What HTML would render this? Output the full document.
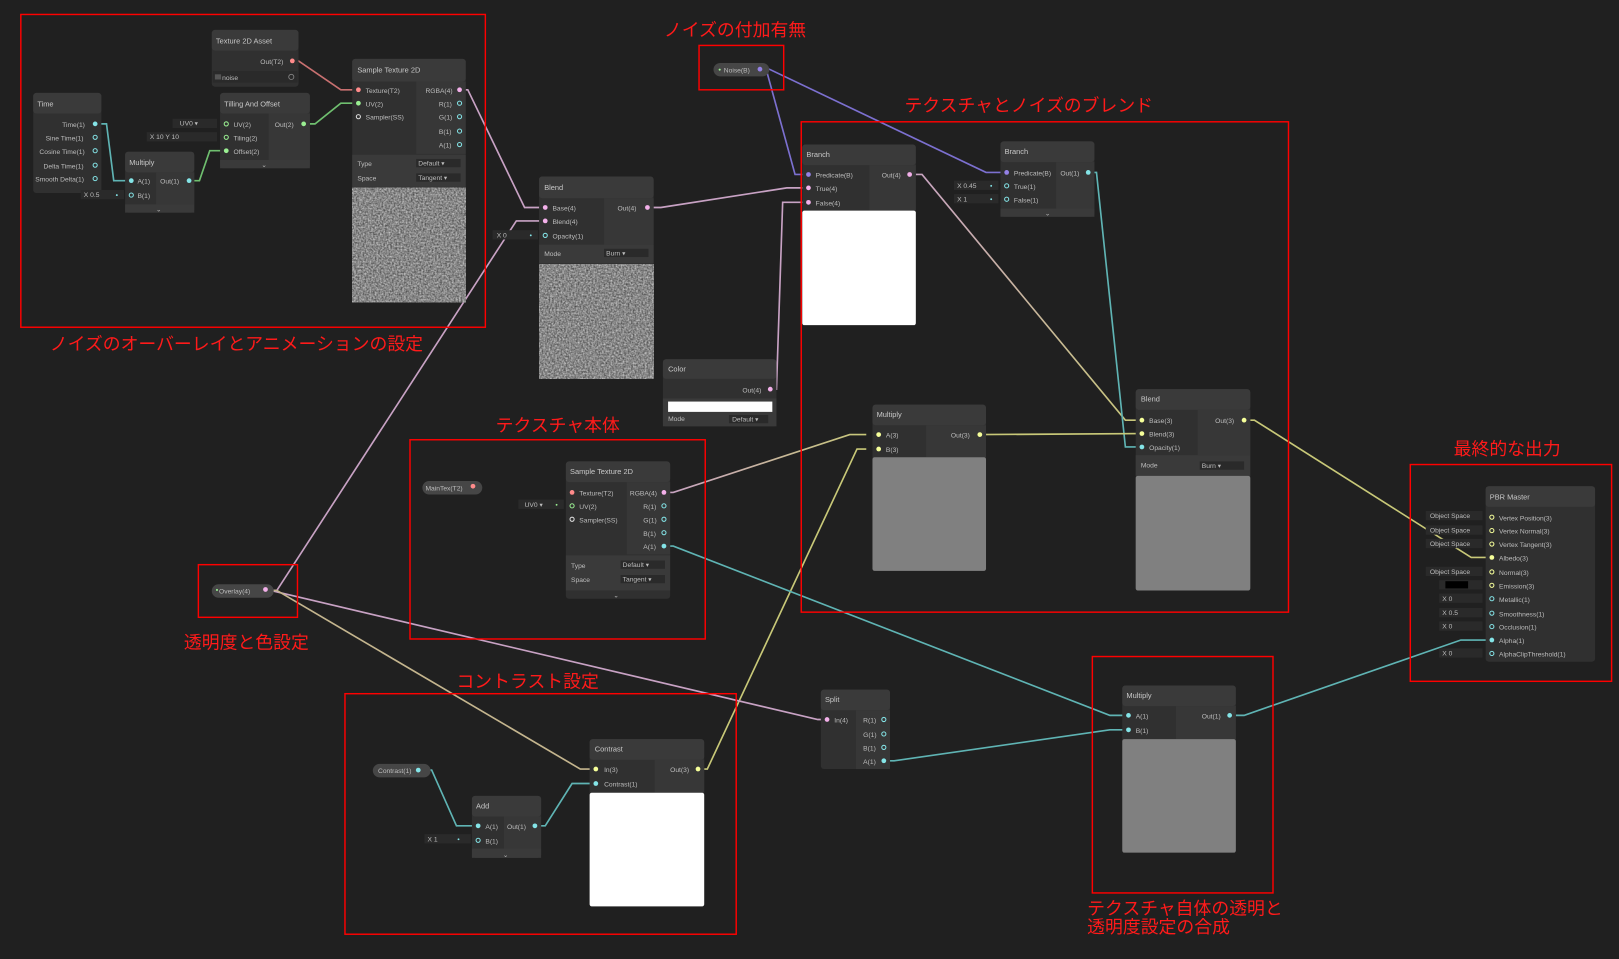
<!DOCTYPE html>
<html><head><meta charset="utf-8"><style>
html,body{margin:0;padding:0;background:#202020;overflow:hidden}
svg{display:block}
.t{font-family:"Liberation Sans",sans-serif;font-size:6.5px;fill:#bdbdbd}
.h{font-family:"Liberation Sans",sans-serif;font-size:7.2px;fill:#c8c8c8}
.r{font-family:"Liberation Sans","Noto Sans CJK JP",sans-serif;font-size:17.3px;fill:#ff1a1a}
.hd{fill:#3a3a3a}.bd{fill:#303030}.oc{fill:#373737}.bar{fill:#3a3a3a}
.box{fill:none;stroke:#ff0000;stroke-width:1.4}
.e{fill:none;stroke-width:1.6}
.pk{stroke:#c8a2c4}.tl{stroke:#5fb4b4}.gr{stroke:#6fbf6f}.rd{stroke:#c87070}.pu{stroke:#7c70d0}.yl{stroke:#c8c878}
.fld{fill:#2a2a2a}
</style></head><body>
<svg width="1619" height="959" viewBox="0 0 1568 929" xmlns="http://www.w3.org/2000/svg">
<defs>
<filter id="nz" x="0" y="0" width="100%" height="100%" color-interpolation-filters="sRGB"><feTurbulence type="fractalNoise" baseFrequency="0.6" numOctaves="2" seed="3"/><feColorMatrix type="matrix" values="0.7 0 0 0 0.18 0.7 0 0 0 0.18 0.7 0 0 0 0.18 0 0 0 0 1"/></filter>
<linearGradient id="g1" x1="0" y1="0" x2="1" y2="0"><stop offset="0" stop-color="#c8a2c4"/><stop offset="1" stop-color="#c8c878"/></linearGradient>
<linearGradient id="g2" x1="0" y1="0" x2="1" y2="0"><stop offset="0" stop-color="#c8a2c4"/><stop offset="1" stop-color="#c8c878"/></linearGradient>
</defs>
<rect width="1568" height="929" fill="#202020"/>

<!-- edges -->
<path class="e rd" d="M283 59 H289 L330 87 H347"/>
<path class="e gr" d="M294 120 H305 L330 100 H347"/>
<path class="e tl" d="M92 120 H103 L110 175 H127"/>
<path class="e gr" d="M183 175 H193 L203 146 H219"/>
<path class="e pk" d="M445 87 H453 L508 201 H528"/>
<path class="e pk" d="M262 572 H268 L500 214 H528"/>
<path class="e pk" d="M627 201 H640 L762 182 H783"/>
<path class="e pk" d="M746 377 H752 L758 196 H783"/>
<path class="e pu" d="M736 67 H742 L770 169 H783"/>
<path class="e pu" d="M736 67 H745 L955 167 H975"/>
<path class="e" stroke="url(#g1)" d="M881 169 H893 L1090 407 H1106"/>
<path class="e tl" d="M1054 167 H1062 L1090 433 H1106"/>
<path class="e yl" d="M949 421 L1106 420"/>
<path class="e" stroke="url(#g2)" d="M643 477 H652 L823 421 H839"/>
<path class="e yl" d="M676 745 H685 L830 435 H839"/>
<path class="e tl" d="M643 529 H652 L1075 693 H1093"/>
<path class="e pk" d="M262 572 L792 697 H801"/>
<path class="e" stroke="#c4b58e" d="M262 572 H268 L562 745 H577"/>
<path class="e tl" d="M408 746 H418 L442 800 H463"/>
<path class="e tl" d="M518 800 H528 L554 759 H577"/>
<path class="e tl" d="M856 737 H866 L1075 707 H1093"/>
<path class="e tl" d="M1191 693 H1205 L1415 620 H1445"/>
<path class="e yl" d="M1205 407 H1215 L1425 540 H1445"/>

<!-- Texture 2D Asset -->
<rect x="205" y="29" width="84" height="55" rx="3" class="bd"/>
<rect x="205" y="29" width="84" height="20" rx="3" class="hd"/>
<text x="209" y="42" class="h">Texture 2D Asset</text>
<text x="252" y="62" class="t">Out(T2)</text><circle cx="283" cy="59" r="2.3" fill="#ff8b8b"/>
<rect x="206" y="69" width="82" height="11" class="fld"/><rect x="208" y="72" width="6" height="5" fill="#555"/>
<text x="215" y="77.5" class="t">noise</text><circle cx="282" cy="74.5" r="2.5" fill="none" stroke="#888" stroke-width="0.8"/>

<!-- Sample Texture 2D top -->
<rect x="341" y="57" width="110" height="236" rx="3" class="bd"/>
<rect x="341" y="57" width="110" height="22" rx="3" class="hd"/>
<rect x="403" y="79" width="48" height="70" class="oc"/>
<text x="346" y="70" class="h">Sample Texture 2D</text>
<circle cx="347" cy="87" r="2.3" fill="#ff8b8b"/><text x="354" y="90" class="t">Texture(T2)</text>
<circle cx="347" cy="100" r="2.3" fill="#9aef92"/><text x="354" y="103" class="t">UV(2)</text>
<circle cx="347" cy="113" r="2" fill="none" stroke="#ddd" stroke-width="1"/><text x="354" y="116" class="t">Sampler(SS)</text>
<text x="412" y="90" class="t">RGBA(4)</text><circle cx="445" cy="87" r="2.3" fill="#f3b0ea"/>
<text x="425" y="103" class="t">R(1)</text><circle cx="445" cy="100" r="2" fill="none" stroke="#84e4e7" stroke-width="1"/>
<text x="425" y="116" class="t">G(1)</text><circle cx="445" cy="113" r="2" fill="none" stroke="#84e4e7" stroke-width="1"/>
<text x="425" y="130" class="t">B(1)</text><circle cx="445" cy="127" r="2" fill="none" stroke="#84e4e7" stroke-width="1"/>
<text x="425" y="143" class="t">A(1)</text><circle cx="445" cy="140" r="2" fill="none" stroke="#84e4e7" stroke-width="1"/>
<rect x="341" y="150" width="110" height="31" class="hd"/>
<text x="346" y="161" class="t">Type</text><rect x="403" y="154" width="43" height="8" class="fld"/><text x="405" y="160.5" class="t">Default ▾</text>
<text x="346" y="175" class="t">Space</text><rect x="403" y="168" width="43" height="8" class="fld"/><text x="405" y="174.5" class="t">Tangent ▾</text>
<rect x="341" y="182" width="110" height="111" filter="url(#nz)"/>

<!-- Time -->
<rect x="32" y="90" width="66" height="97" rx="3" class="bd"/>
<rect x="32" y="90" width="66" height="20" rx="3" class="hd"/>
<text x="36" y="103" class="h">Time</text>
<text x="60" y="123" class="t">Time(1)</text><circle cx="92" cy="120" r="2.3" fill="#84e4e7"/>
<text x="44" y="136" class="t">Sine Time(1)</text><circle cx="92" cy="133" r="2" fill="none" stroke="#84e4e7"/>
<text x="38" y="149" class="t">Cosine Time(1)</text><circle cx="92" cy="146" r="2" fill="none" stroke="#84e4e7"/>
<text x="42" y="163" class="t">Delta Time(1)</text><circle cx="92" cy="160" r="2" fill="none" stroke="#84e4e7"/>
<text x="34" y="176" class="t">Smooth Delta(1)</text><circle cx="92" cy="173" r="2" fill="none" stroke="#84e4e7"/>

<!-- Multiply small -->
<rect x="121" y="147" width="67" height="59" rx="3" class="bd"/>
<rect x="121" y="147" width="67" height="20" rx="3" class="hd"/>
<rect x="151" y="167" width="37" height="31" class="oc"/><rect x="121" y="198" width="67" height="8" class="bar"/>
<text x="125" y="160" class="h">Multiply</text>
<circle cx="127" cy="175" r="2.3" fill="#84e4e7"/><text x="133" y="178" class="t">A(1)</text>
<circle cx="127" cy="189" r="2" fill="none" stroke="#84e4e7"/><text x="133" y="192" class="t">B(1)</text>
<text x="155" y="178" class="t">Out(1)</text><circle cx="183" cy="175" r="2.3" fill="#84e4e7"/>
<text x="151" y="205" class="t">⌄</text>
<rect x="78" y="184" width="42" height="9" class="fld"/><text x="81" y="191" class="t">X  0.5</text><circle cx="113" cy="189" r="0.9" fill="#84e4e7"/>

<!-- Tiling and Offset -->
<rect x="213" y="90" width="87" height="73" rx="3" class="bd"/>
<rect x="213" y="90" width="87" height="20" rx="3" class="hd"/>
<rect x="260" y="110" width="40" height="45" class="oc"/><rect x="213" y="155" width="87" height="8" class="bar"/>
<text x="217" y="103" class="h">Tilling And Offset</text>
<circle cx="219" cy="120" r="2" fill="none" stroke="#9aef92"/><text x="226" y="123" class="t">UV(2)</text>
<circle cx="219" cy="133" r="2" fill="none" stroke="#9aef92"/><text x="226" y="136" class="t">Tiling(2)</text>
<circle cx="219" cy="146" r="2.3" fill="#9aef92"/><text x="226" y="149" class="t">Offset(2)</text>
<text x="266" y="123" class="t">Out(2)</text><circle cx="294" cy="120" r="2.3" fill="#9aef92"/>
<text x="253" y="162" class="t">⌄</text>
<rect x="167" y="115" width="43" height="9" class="fld"/><text x="174" y="121.5" class="t" fill="#ddd">UV0 ▾</text>
<rect x="142" y="128" width="68" height="9" class="fld"/><text x="145" y="134.5" class="t">X  10   Y  10</text>

<!-- Blend mid -->
<rect x="522" y="171" width="111" height="196" rx="3" class="bd"/>
<rect x="522" y="171" width="111" height="21" rx="3" class="hd"/>
<rect x="585" y="192" width="48" height="45" class="oc"/>
<text x="527" y="184" class="h">Blend</text>
<circle cx="528" cy="201" r="2.3" fill="#f3b0ea"/><text x="535" y="204" class="t">Base(4)</text>
<circle cx="528" cy="214" r="2.3" fill="#f3b0ea"/><text x="535" y="217" class="t">Blend(4)</text>
<circle cx="528" cy="228" r="2" fill="none" stroke="#84e4e7"/><text x="535" y="231" class="t">Opacity(1)</text>
<text x="598" y="204" class="t">Out(4)</text><circle cx="627" cy="201" r="2.3" fill="#f3b0ea"/>
<rect x="522" y="237" width="111" height="18" class="hd"/>
<text x="527" y="248" class="t">Mode</text><rect x="585" y="241" width="43" height="8" class="fld"/><text x="587" y="247.5" class="t">Burn          ▾</text>
<rect x="522" y="256" width="111" height="111" filter="url(#nz)"/>
<rect x="477" y="223" width="44" height="9" class="fld"/><text x="481" y="230" class="t">X  0</text><circle cx="514" cy="228" r="0.9" fill="#84e4e7"/>

<!-- Color -->
<rect x="642" y="348" width="110" height="65" rx="3" class="bd"/>
<rect x="642" y="348" width="110" height="19" rx="3" class="hd"/>
<text x="647" y="360" class="h">Color</text>
<text x="719" y="380" class="t">Out(4)</text><circle cx="746" cy="377" r="2.3" fill="#f3b0ea"/>
<rect x="642" y="386" width="110" height="27" class="hd"/>
<rect x="647" y="389" width="101" height="10" fill="#fff"/>
<text x="647" y="408" class="t">Mode</text><rect x="706" y="402" width="38" height="8" class="fld"/><text x="709" y="408.5" class="t">Default ▾</text>

<!-- Noise pill -->
<rect x="691" y="61" width="54" height="13" rx="6.5" fill="#464646"/>
<circle cx="697" cy="67.5" r="1" fill="#9aef92"/><text x="701" y="70" class="t">Noise(B)</text><circle cx="736" cy="67" r="2.3" fill="#9481e6"/>

<!-- Branch big -->
<rect x="777" y="140" width="110" height="175" rx="3" class="bd"/>
<rect x="777" y="140" width="110" height="20" rx="3" class="hd"/>
<rect x="842" y="160" width="45" height="44" class="oc"/>
<text x="781" y="152" class="h">Branch</text>
<circle cx="783" cy="169" r="2.3" fill="#9481e6"/><text x="790" y="172" class="t">Predicate(B)</text>
<circle cx="783" cy="182" r="2.3" fill="#f3b0ea"/><text x="790" y="185" class="t">True(4)</text>
<circle cx="783" cy="196" r="2.3" fill="#f3b0ea"/><text x="790" y="199" class="t">False(4)</text>
<text x="854" y="172" class="t">Out(4)</text><circle cx="881" cy="169" r="2.3" fill="#f3b0ea"/>
<rect x="777" y="204" width="110" height="111" rx="2" fill="#fff"/>

<!-- Branch small -->
<rect x="969" y="137" width="91" height="73" rx="3" class="bd"/>
<rect x="969" y="137" width="91" height="20" rx="3" class="hd"/>
<rect x="1023" y="157" width="37" height="45" class="oc"/><rect x="969" y="202" width="91" height="8" class="bar"/>
<text x="973" y="149" class="h">Branch</text>
<circle cx="975" cy="167" r="2.3" fill="#9481e6"/><text x="982" y="170" class="t">Predicate(B)</text>
<circle cx="975" cy="180" r="2" fill="none" stroke="#84e4e7"/><text x="982" y="183" class="t">True(1)</text>
<circle cx="975" cy="193" r="2" fill="none" stroke="#84e4e7"/><text x="982" y="196" class="t">False(1)</text>
<text x="1027" y="170" class="t">Out(1)</text><circle cx="1054" cy="167" r="2.3" fill="#84e4e7"/>
<text x="1012" y="209" class="t">⌄</text>
<rect x="924" y="175" width="43" height="9" class="fld"/><text x="927" y="182" class="t">X  0.45</text><circle cx="960" cy="180" r="0.9" fill="#84e4e7"/>
<rect x="924" y="188" width="43" height="9" class="fld"/><text x="927" y="195" class="t">X  1</text><circle cx="960" cy="193" r="0.9" fill="#84e4e7"/>

<!-- Multiply mid -->
<rect x="845" y="392" width="110" height="161" rx="3" class="bd"/>
<rect x="845" y="392" width="110" height="20" rx="3" class="hd"/>
<rect x="897" y="412" width="58" height="31" class="oc"/>
<text x="849" y="404" class="h">Multiply</text>
<circle cx="851" cy="421" r="2.3" fill="#f6ff9a"/><text x="858" y="424" class="t">A(3)</text>
<circle cx="851" cy="435" r="2.3" fill="#f6ff9a"/><text x="858" y="438" class="t">B(3)</text>
<text x="921" y="424" class="t">Out(3)</text><circle cx="949" cy="421" r="2.3" fill="#f6ff9a"/>
<rect x="845" y="443" width="110" height="110" rx="2" fill="#808080"/>

<!-- Blend right -->
<rect x="1100" y="377" width="111" height="195" rx="3" class="bd"/>
<rect x="1100" y="377" width="111" height="20" rx="3" class="hd"/>
<rect x="1160" y="397" width="51" height="44" class="oc"/>
<text x="1105" y="389" class="h">Blend</text>
<circle cx="1106" cy="407" r="2.3" fill="#f6ff9a"/><text x="1113" y="410" class="t">Base(3)</text>
<circle cx="1106" cy="420" r="2.3" fill="#f6ff9a"/><text x="1113" y="423" class="t">Blend(3)</text>
<circle cx="1106" cy="433" r="2.3" fill="#84e4e7"/><text x="1113" y="436" class="t">Opacity(1)</text>
<text x="1177" y="410" class="t">Out(3)</text><circle cx="1205" cy="407" r="2.3" fill="#f6ff9a"/>
<rect x="1100" y="441" width="111" height="20" class="hd"/>
<text x="1105" y="453" class="t">Mode</text><rect x="1162" y="447" width="43" height="8" class="fld"/><text x="1164" y="453.5" class="t">Burn          ▾</text>
<rect x="1100" y="461" width="111" height="111" rx="2" fill="#808080"/>

<!-- Sample Texture 2D mid -->
<rect x="548" y="447" width="101" height="133" rx="3" class="bd"/>
<rect x="548" y="447" width="101" height="20" rx="3" class="hd"/>
<rect x="607" y="467" width="42" height="70" class="oc"/>
<text x="552" y="459" class="h">Sample Texture 2D</text>
<circle cx="554" cy="477" r="2.3" fill="#ff8b8b"/><text x="561" y="480" class="t">Texture(T2)</text>
<circle cx="554" cy="490" r="2" fill="none" stroke="#9aef92"/><text x="561" y="493" class="t">UV(2)</text>
<circle cx="554" cy="503" r="2" fill="none" stroke="#ddd"/><text x="561" y="506" class="t">Sampler(SS)</text>
<text x="610" y="480" class="t">RGBA(4)</text><circle cx="643" cy="477" r="2.3" fill="#f3b0ea"/>
<text x="623" y="493" class="t">R(1)</text><circle cx="643" cy="490" r="2" fill="none" stroke="#84e4e7"/>
<text x="623" y="506" class="t">G(1)</text><circle cx="643" cy="503" r="2" fill="none" stroke="#84e4e7"/>
<text x="623" y="519" class="t">B(1)</text><circle cx="643" cy="516" r="2" fill="none" stroke="#84e4e7"/>
<text x="623" y="532" class="t">A(1)</text><circle cx="643" cy="529" r="2.3" fill="#84e4e7"/>
<rect x="548" y="538" width="101" height="34" class="hd"/>
<text x="553" y="550" class="t">Type</text><rect x="601" y="543" width="43" height="8" class="fld"/><text x="603" y="549.5" class="t">Default ▾</text>
<text x="553" y="564" class="t">Space</text><rect x="601" y="557" width="43" height="8" class="fld"/><text x="603" y="563.5" class="t">Tangent ▾</text>
<text x="594" y="579" class="t">⌄</text>
<rect x="409" y="466" width="58" height="13" rx="6.5" fill="#464646"/><text x="412" y="475" class="t">MainTex(T2)</text><circle cx="458" cy="471" r="2.3" fill="#ff8b8b"/>
<rect x="502" y="484" width="44" height="9" class="fld"/><text x="508" y="491" class="t" fill="#ddd">UV0 ▾</text><circle cx="539" cy="489" r="0.9" fill="#9aef92"/>

<!-- Overlay pill -->
<rect x="205" y="566" width="60" height="13" rx="6.5" fill="#464646"/>
<circle cx="210" cy="571.5" r="1" fill="#9aef92"/><text x="212" y="575" class="t">Overlay(4)</text><circle cx="257" cy="571" r="2.3" fill="#f3b0ea"/>

<!-- Contrast pill -->
<rect x="361" y="740" width="56" height="13" rx="6.5" fill="#464646"/><text x="366" y="749" class="t">Contrast(1)</text><circle cx="405" cy="746" r="2.3" fill="#84e4e7"/>

<!-- Add -->
<rect x="457" y="771" width="67" height="60" rx="3" class="bd"/>
<rect x="457" y="771" width="67" height="20" rx="3" class="hd"/>
<rect x="488" y="791" width="36" height="31" class="oc"/><rect x="457" y="822" width="67" height="9" class="bar"/>
<text x="461" y="783" class="h">Add</text>
<circle cx="463" cy="800" r="2.3" fill="#84e4e7"/><text x="470" y="803" class="t">A(1)</text>
<circle cx="463" cy="814" r="2" fill="none" stroke="#84e4e7"/><text x="470" y="817" class="t">B(1)</text>
<text x="491" y="803" class="t">Out(1)</text><circle cx="518" cy="800" r="2.3" fill="#84e4e7"/>
<text x="487" y="830" class="t">⌄</text>
<rect x="411" y="808" width="45" height="9" class="fld"/><text x="414" y="815" class="t">X  1</text><circle cx="444" cy="813" r="0.9" fill="#84e4e7"/>

<!-- Contrast node -->
<rect x="571" y="716" width="111" height="162" rx="3" class="bd"/>
<rect x="571" y="716" width="111" height="20" rx="3" class="hd"/>
<rect x="634" y="736" width="48" height="32" class="oc"/>
<text x="576" y="728" class="h">Contrast</text>
<circle cx="577" cy="745" r="2.3" fill="#f6ff9a"/><text x="585" y="748" class="t">In(3)</text>
<circle cx="577" cy="759" r="2.3" fill="#84e4e7"/><text x="585" y="762" class="t">Contrast(1)</text>
<text x="649" y="748" class="t">Out(3)</text><circle cx="676" cy="745" r="2.3" fill="#f6ff9a"/>
<rect x="571" y="768" width="111" height="110" rx="2" fill="#fff"/>

<!-- Split -->
<rect x="795" y="668" width="67" height="77" rx="3" class="bd"/>
<rect x="795" y="668" width="67" height="20" rx="3" class="hd"/>
<rect x="829" y="688" width="33" height="57" class="oc"/>
<text x="799" y="680" class="h">Split</text>
<circle cx="801" cy="697" r="2.3" fill="#f3b0ea"/><text x="808" y="700" class="t">In(4)</text>
<text x="836" y="700" class="t">R(1)</text><circle cx="856" cy="697" r="2" fill="none" stroke="#84e4e7"/>
<text x="836" y="714" class="t">G(1)</text><circle cx="856" cy="711" r="2" fill="none" stroke="#84e4e7"/>
<text x="836" y="727" class="t">B(1)</text><circle cx="856" cy="724" r="2" fill="none" stroke="#84e4e7"/>
<text x="836" y="740" class="t">A(1)</text><circle cx="856" cy="737" r="2.3" fill="#84e4e7"/>

<!-- Multiply bottom -->
<rect x="1087" y="664" width="110" height="162" rx="3" class="bd"/>
<rect x="1087" y="664" width="110" height="20" rx="3" class="hd"/>
<rect x="1139" y="684" width="58" height="32" class="oc"/>
<text x="1091" y="676" class="h">Multiply</text>
<circle cx="1093" cy="693" r="2.3" fill="#84e4e7"/><text x="1100" y="696" class="t">A(1)</text>
<circle cx="1093" cy="707" r="2.3" fill="#84e4e7"/><text x="1100" y="710" class="t">B(1)</text>
<text x="1164" y="696" class="t">Out(1)</text><circle cx="1191" cy="693" r="2.3" fill="#84e4e7"/>
<rect x="1087" y="716" width="110" height="110" rx="2" fill="#808080"/>

<!-- PBR Master -->
<rect x="1439" y="471" width="106" height="170" rx="3" class="bd" fill="#363636"/>
<rect x="1439" y="471" width="106" height="20" rx="3" class="hd"/>
<text x="1443" y="484" class="h">PBR Master</text>
<g class="t">
<text x="1452" y="504">Vertex Position(3)</text><text x="1452" y="517">Vertex Normal(3)</text><text x="1452" y="530">Vertex Tangent(3)</text>
<text x="1452" y="543">Albedo(3)</text><text x="1452" y="557">Normal(3)</text><text x="1452" y="570">Emission(3)</text>
<text x="1452" y="583">Metallic(1)</text><text x="1452" y="597">Smoothness(1)</text><text x="1452" y="610">Occlusion(1)</text>
<text x="1452" y="623">Alpha(1)</text><text x="1452" y="636">AlphaClipThreshold(1)</text>
</g>
<g fill="none" stroke-width="1">
<circle cx="1445" cy="501" r="2" stroke="#f6ff9a"/><circle cx="1445" cy="514" r="2" stroke="#f6ff9a"/><circle cx="1445" cy="527" r="2" stroke="#f6ff9a"/>
<circle cx="1445" cy="554" r="2" stroke="#f6ff9a"/><circle cx="1445" cy="567" r="2" stroke="#f6ff9a"/>
<circle cx="1445" cy="580" r="2" stroke="#84e4e7"/><circle cx="1445" cy="594" r="2" stroke="#84e4e7"/><circle cx="1445" cy="607" r="2" stroke="#84e4e7"/><circle cx="1445" cy="633" r="2" stroke="#84e4e7"/>
</g>
<circle cx="1445" cy="540" r="2.3" fill="#f6ff9a"/><circle cx="1445" cy="620" r="2.3" fill="#84e4e7"/>
<g>
<rect x="1381" y="495" width="55" height="9" class="fld"/><text x="1385" y="502" class="t">Object Space</text>
<rect x="1381" y="509" width="55" height="9" class="fld"/><text x="1385" y="516" class="t">Object Space</text>
<rect x="1381" y="522" width="55" height="9" class="fld"/><text x="1385" y="529" class="t">Object Space</text>
<rect x="1381" y="549" width="55" height="9" class="fld"/><text x="1385" y="556" class="t">Object Space</text>
<rect x="1394" y="562" width="42" height="9" class="fld"/><rect x="1400" y="563" width="22" height="7" fill="#000"/>
<rect x="1394" y="575" width="42" height="9" class="fld"/><text x="1397" y="582" class="t">X  0</text>
<rect x="1394" y="589" width="42" height="9" class="fld"/><text x="1397" y="596" class="t">X  0.5</text>
<rect x="1394" y="602" width="42" height="9" class="fld"/><text x="1397" y="609" class="t">X  0</text>
<rect x="1394" y="628" width="42" height="9" class="fld"/><text x="1397" y="635" class="t">X  0</text>
</g>

<!-- red boxes & labels -->
<rect x="20" y="14" width="450" height="303" class="box"/>
<text x="48" y="339" class="r">ノイズのオーバーレイとアニメーションの設定</text>
<rect x="677" y="44" width="82" height="43" class="box"/>
<text x="643" y="35" class="r">ノイズの付加有無</text>
<rect x="776" y="118" width="472" height="475" class="box"/>
<text x="876" y="108" class="r">テクスチャとノイズのブレンド</text>
<rect x="397" y="426" width="286" height="193" class="box"/>
<text x="480" y="418" class="r">テクスチャ本体</text>
<rect x="192" y="547" width="96" height="51" class="box"/>
<text x="178" y="628" class="r">透明度と色設定</text>
<rect x="334" y="672" width="379" height="233" class="box"/>
<text x="442" y="666" class="r">コントラスト設定</text>
<rect x="1058" y="636" width="175" height="229" class="box"/>
<text x="1053" y="886" class="r">テクスチャ自体の透明と</text>
<text x="1053" y="904" class="r">透明度設定の合成</text>
<rect x="1366" y="450" width="195" height="210" class="box"/>
<text x="1408" y="441" class="r">最終的な出力</text>
</svg>
</body></html>
